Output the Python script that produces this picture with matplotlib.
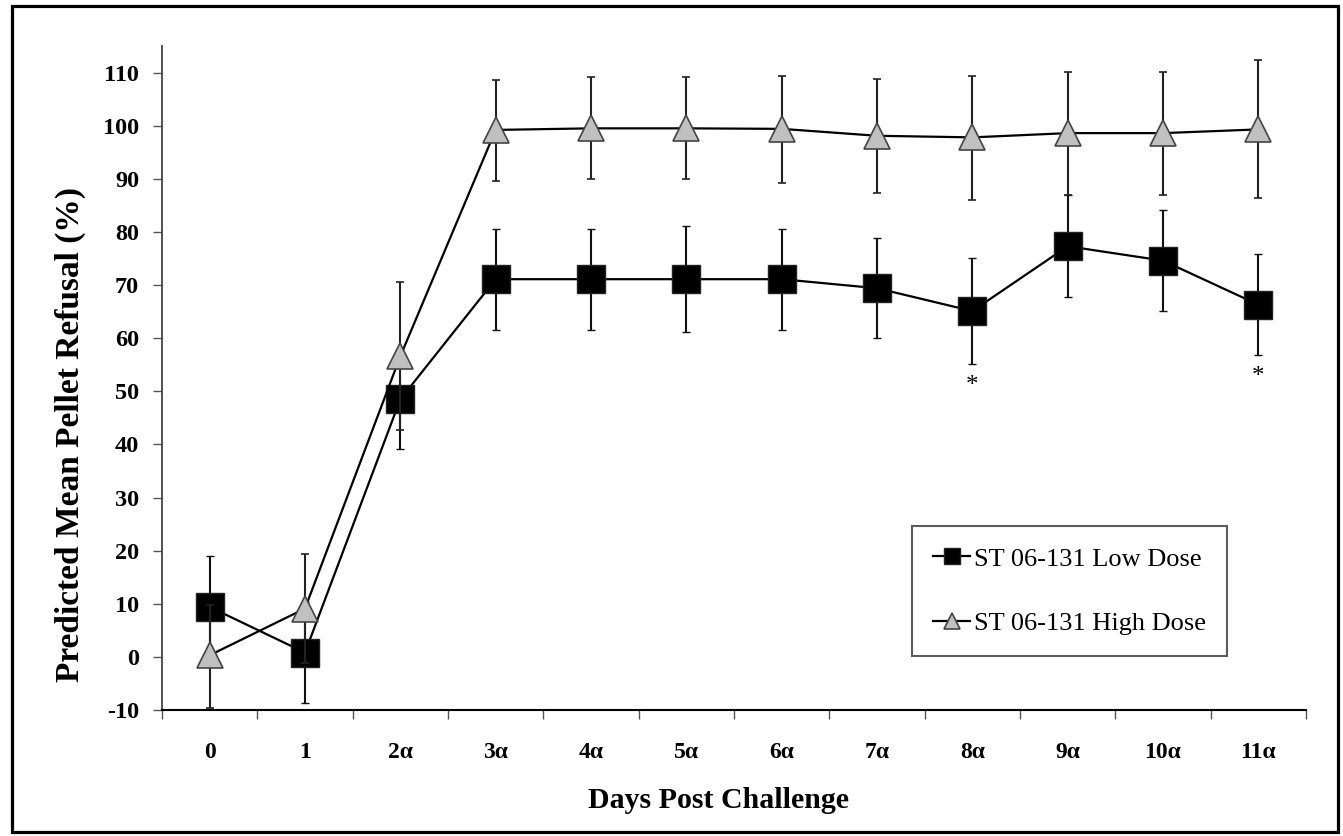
import numpy as np
import matplotlib
matplotlib.use("Agg")
import matplotlib.pyplot as plt
from matplotlib.patches import Rectangle
from matplotlib.lines import Line2D

# ---------------- data ----------------
days = ["0", "1", "2\u03b1", "3\u03b1", "4\u03b1", "5\u03b1", "6\u03b1",
        "7\u03b1", "8\u03b1", "9\u03b1", "10\u03b1", "11\u03b1"]

low_mean = [9.4, 0.8, 48.5, 71.1, 71.1, 71.1, 71.1, 69.4, 65.1, 77.3, 74.6, 66.3]
low_upper = [18.9, 10.3, 58.0, 80.6, 80.6, 81.1, 80.6, 78.9, 75.0, 86.9, 84.2, 75.8]
low_lower = [-0.1, -8.7, 39.1, 61.6, 61.6, 61.1, 61.6, 60.0, 55.1, 67.8, 65.1, 56.8]

high_mean = [0.3, 9.1, 56.6, 99.2, 99.5, 99.5, 99.4, 98.1, 97.8, 98.6, 98.6, 99.3]
high_upper = [9.8, 19.4, 70.5, 108.6, 109.1, 109.1, 109.4, 108.8, 109.3, 110.1, 110.1, 112.4]
high_lower = [-9.7, -1.2, 42.7, 89.6, 90.0, 90.0, 89.3, 87.3, 86.1, 86.9, 86.9, 86.4]

sig_days = ["8\u03b1", "11\u03b1"]   # significant differences (*)

low_label = "ST 06-131 Low Dose"
high_label = "ST 06-131 High Dose"
y_ticks = list(range(-10, 111, 10))

# ---------------- figure ----------------
W, H = 1343, 836
plt.rcParams["font.family"] = ["Liberation Serif", "DejaVu Serif"]
fig = plt.figure(figsize=(W / 100, H / 100), dpi=100)
fig.patch.set_facecolor("white")

def fx(px):
    return px / W

def fy(py):
    return 1 - py / H

ax = fig.add_axes([fx(162), fy(710), fx(1306) - fx(162), fy(46) - fy(710)])

x = np.arange(len(days))
low_mean_a = np.array(low_mean)
high_mean_a = np.array(high_mean)
low_err = [low_mean_a - np.array(low_lower), np.array(low_upper) - low_mean_a]
high_err = [high_mean_a - np.array(high_lower), np.array(high_upper) - high_mean_a]

low_style = dict(marker="s", color="black", markerfacecolor="black",
                 markeredgecolor="#222222", markeredgewidth=1.0, linewidth=1.6)
high_style = dict(marker="^", color="black", markerfacecolor="#c0c0c0",
                  markeredgecolor="#444444", markeredgewidth=1.2, linewidth=1.6)

ax.errorbar(x, low_mean, yerr=low_err, ecolor="#111111", elinewidth=1.5,
            capsize=2.8, capthick=1.6, markersize=20, zorder=3, **low_style)
ax.errorbar(x, high_mean, yerr=high_err, ecolor="#222222", elinewidth=1.5,
            capsize=2.8, capthick=1.6, markersize=19, zorder=4, **high_style)

# significance asterisks below the low-dose error bars
for d in sig_days:
    i = days.index(d)
    ax.annotate("*", xy=(x[i], low_lower[i]), xytext=(0, -16),
                textcoords="offset points", ha="center", va="center",
                fontsize=18, color="black")

ax.set_xlim(-0.5, len(days) - 0.5)
ax.set_ylim(-10, 115)

# x ticks: marks at category boundaries, labels at centers
ax.set_xticks(np.arange(-0.5, len(days), 1.0))
ax.set_xticklabels([])
ax.set_xticks(x, minor=True)
ax.set_xticklabels(days, minor=True, fontsize=17, fontweight="bold")
ax.tick_params(axis="x", which="major", direction="out", length=6.5,
               width=1.0, color="#555555")
ax.tick_params(axis="x", which="minor", length=0, pad=23)

ax.set_yticks(y_ticks)
ax.set_yticklabels([str(t) for t in y_ticks], fontsize=17.5, fontweight="bold")
ax.tick_params(axis="y", direction="out", length=6.5, width=1.0,
               color="#555555", pad=10)

for s in ["top", "right"]:
    ax.spines[s].set_visible(False)
ax.spines["left"].set_color("#444444")
ax.spines["left"].set_linewidth(1.3)
ax.spines["bottom"].set_color("black")
ax.spines["bottom"].set_linewidth(1.5)

# axis labels
fig.text(fx(718), fy(800), "Days Post Challenge", ha="center", va="center",
         fontsize=21.5, fontweight="bold")
fig.text(fx(70), fy(435), "Predicted Mean Pellet Refusal (%)", ha="center",
         va="center", rotation=90, fontsize=24, fontweight="bold")

# legend (markers + line, no error bars)
handles = [Line2D([], [], markersize=12, **low_style),
           Line2D([], [], markersize=12, **high_style)]
leg = ax.legend(handles, [low_label, high_label], loc="upper left",
                bbox_to_anchor=(fx(912), fy(526)),
                bbox_transform=fig.transFigure, fontsize=19, frameon=True,
                fancybox=False, shadow=False,
                handlelength=1.4, handletextpad=0.15, labelspacing=1.55,
                borderpad=0.8, borderaxespad=0)
leg.get_frame().set_edgecolor("#333333")
leg.get_frame().set_linewidth(1.5)

# outer border around the whole figure
fig.patches.append(Rectangle((fx(11.5), fy(832)), fx(1338) - fx(11.5),
                             fy(6) - fy(832), transform=fig.transFigure,
                             fill=False, edgecolor="black", linewidth=2.3,
                             figure=fig))

fig.savefig("out.png", dpi=100, facecolor="white")
